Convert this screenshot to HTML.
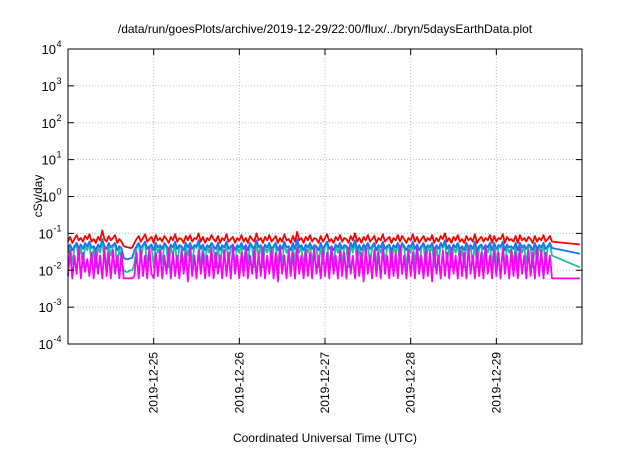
<!DOCTYPE html>
<html><head><meta charset="utf-8"><style>
body{margin:0;background:#fff;width:640px;height:448px;overflow:hidden;font-family:"Liberation Sans",sans-serif}
</style></head><body>
<svg id="c" width="640" height="448" xmlns="http://www.w3.org/2000/svg" font-family="Liberation Sans, sans-serif">
<text x="325" y="33" font-size="12" text-anchor="middle">/data/run/goesPlots/archive/2019-12-29/22:00/flux/../bryn/5daysEarthData.plot</text>
<text x="325" y="442" font-size="12" text-anchor="middle">Coordinated Universal Time (UTC)</text>
<text transform="translate(42,196) rotate(-90)" font-size="12" text-anchor="middle">cSv/day</text>
<g id="grid"></g><g id="series"></g><g id="axes"></g>
</svg>
<script>
const xTickLabels=["2019-12-25","2019-12-26","2019-12-27","2019-12-28","2019-12-29"];
const xTickDays=[1,2,3,4,5];
const yTickExps=[-4,-3,-2,-1,0,1,2,3,4];
// values in units of 1e-3 cSv/day, one sample every 0.025 day from 2019-12-24 00:00
const redVals=[60,80,55,70,90,65,75,60,85,70, 95,60,70,55,80,65,120,70,60,85, 65,75,90,55,70,60,45,43,42,40,
41,55,70,85,60,75,95,60,70,80, 55,90,65,75,60,85,70,55,80,65, 95,60,75,70,55,85,65,90,60,75,
70,100,60,80,55,75,65,90,70,60, 85,55,75,65,95,60,70,80,55,75, 65,90,60,75,55,85,70,60,100,65,
75,55,80,65,90,60,70,85,55,75, 60,95,65,70,55,85,60,110,65,75, 55,80,65,90,60,75,70,55,85,60,
75,95,60,70,55,80,65,90,60,75, 70,55,85,65,100,60,75,55,80,65, 90,60,70,85,55,75,65,95,60,70,
80,55,75,65,90,60,85,70,55,75, 65,95,60,80,55,70,85,60,75,65, 90,55,75,60,85,70,100,60,75,55,
80,65,90,60,70,55,85,65,75,60, 95,55,70,80,60,75,65,90,55,85, 60,75,70,95,55,80,65,70,60,85,
55,90,65,75,60,80,70,55,85,60, 75,65,90,60,70,85,60,null,null,null, null,null,null,null,null,null,null,null,null,50];
const blueVals=[40,50,35,45,55,40,50,38,55,45, 60,40,45,35,50,42,70,45,38,55, 42,48,55,35,45,40,22,20,20,21,
22,35,45,55,40,48,60,38,45,50, 35,55,42,48,38,55,45,35,50,42, 60,38,48,45,35,55,42,55,38,48,
45,65,38,50,35,48,42,55,45,38, 55,35,48,42,60,38,45,50,35,48, 42,55,38,48,35,55,45,38,65,42,
48,35,50,42,55,38,45,55,35,48, 38,60,42,45,35,55,38,70,42,48, 35,50,42,55,38,48,45,35,55,38,
48,60,38,45,35,50,42,55,38,48, 45,35,55,42,65,38,48,35,50,42, 55,38,45,55,35,48,42,60,38,45,
50,35,48,42,55,38,55,45,35,48, 42,60,38,50,35,45,55,38,48,42, 55,35,48,38,55,45,65,38,48,35,
50,42,55,38,45,35,55,42,48,38, 60,35,45,50,38,48,42,55,35,55, 38,48,45,60,35,50,42,45,38,55,
35,55,42,48,38,50,45,35,55,38, 48,42,55,38,45,55,40,null,null,null, null,null,null,null,null,null,null,null,null,28];
const tealVals=[30,45,15,40,50,20,45,12,50,35, 55,15,40,12,45,30,60,20,12,50, 25,45,50,12,40,20,10,9,9,10,
10,15,40,50,20,45,55,12,40,45, 12,50,30,45,15,50,40,12,45,25, 55,12,45,40,12,50,25,50,15,45,
40,60,12,45,15,45,30,50,40,12, 50,12,45,25,55,15,40,45,12,45, 30,50,12,45,15,50,40,12,60,25,
45,12,45,30,50,15,40,50,12,45, 15,55,30,40,12,50,15,60,30,45, 12,45,30,50,15,45,40,12,50,15,
45,55,12,40,15,45,30,50,15,45, 40,12,50,30,60,15,45,12,45,30, 50,15,40,50,12,45,30,55,15,40,
45,12,45,30,50,15,50,40,12,45, 30,55,15,45,12,40,50,15,45,30, 50,12,45,15,50,40,60,15,45,12,
45,30,50,15,40,12,50,30,45,15, 55,12,40,45,15,45,30,50,12,50, 15,45,40,55,12,45,30,40,15,50,
12,50,30,45,15,45,40,12,50,15, 45,30,50,15,40,50,25,null,null,null, null,null,null,null,null,null,null,null,null,12];
const magentaVals=[7,35,6,25,8,40,6,30,9,20, 7,30,6,35,8,25,6,40,7,30, 6,35,8,25,6,30,6,6,6,6,
6,7,30,6,35,7,25,6,40,8, 6,30,7,35,6,25,8,40,6,30, 7,25,6,35,8,30,5,40,7,25,
6,35,8,30,6,25,7,40,6,30, 8,25,6,35,7,30,6,45,8,25, 6,30,7,40,6,25,8,35,6,30,
7,40,6,25,8,35,6,30,5,40, 8,25,6,35,7,30,6,40,8,25, 6,35,7,30,6,40,8,25,6,35,
7,30,6,45,8,25,6,35,7,30, 6,40,8,25,6,35,7,30,5,40, 8,25,6,35,7,30,6,40,8,25,
6,35,7,30,6,45,8,25,6,35, 7,30,6,40,8,25,6,35,7,30, 5,40,8,25,6,35,7,30,6,40,
8,25,6,35,7,30,6,40,8,25, 6,35,7,30,6,45,8,25,6,35, 7,30,6,40,8,25,6,35,7,30,
6,40,8,25,6,35,7,30,6,40, 7,35,6,30,8,25,6,null,null,null, null,null,null,null,null,null,null,null,null,6];
const STEP=0.025;
const x0=68,x1=582,y0=49,y1=344,days=6;
const X=d=>x0+(x1-x0)*d/days;
const Y=v=>y1-(y1-y0)*(Math.log10(v)+4)/8;
const NS="http://www.w3.org/2000/svg";
function mk(tag,attrs,parent){const e=document.createElementNS(NS,tag);for(const k in attrs)e.setAttribute(k,attrs[k]);parent.appendChild(e);return e;}
const grid=document.getElementById('grid'),axes=document.getElementById('axes'),ser=document.getElementById('series');
yTickExps.forEach(p=>{const y=y1-(y1-y0)*(p+4)/8;
 if(p>-4&&p<4){const g=mk('line',{x1:x0,x2:x1,y1:y,y2:y,stroke:'#bbb','stroke-dasharray':'1,2','stroke-width':1},grid);
 }
 const t1=mk('line',{x1:x0,x2:x0+6,y1:y,y2:y,stroke:'#000'},axes);
 const t2=mk('line',{x1:x1-6,x2:x1,y1:y,y2:y,stroke:'#000'},axes);
 const base=p<0?53:56;
 const t=mk('text',{x:base,y:y+5,'font-size':13,'text-anchor':'end'},axes);
 
 t.textContent='10';
 const s=mk('text',{x:base+0.5,y:y-2,'font-size':9,'text-anchor':'start'},axes);
 
 s.textContent=String(p);
});
xTickDays.forEach((d,i)=>{const x=X(d);
 const g=mk('line',{x1:x,x2:x,y1:y0,y2:y1,stroke:'#bbb','stroke-dasharray':'1,2'},grid);
 const t1=mk('line',{x1:x,x2:x,y1:y1,y2:y1-6,stroke:'#000'},axes);
 const t2=mk('line',{x1:x,x2:x,y1:y0,y2:y0+6,stroke:'#000'},axes);
 const t=mk('text',{transform:`translate(${x+4},352) rotate(-90)`,'font-size':12,'text-anchor':'end'},axes);
 t.textContent=xTickLabels[i];
});
const fr=mk('rect',{x:x0,y:y0,width:x1-x0,height:y1-y0,fill:'none',stroke:'#000','stroke-width':1},axes);

function line(vals,color,name){let d='';vals.forEach((v,i)=>{if(v==null)return;const px=X(i*STEP),py=Y(v/1000);d+=(d?'L':'M')+px.toFixed(1)+','+py.toFixed(1);});
 const p=mk('path',{d:d,fill:'none',stroke:color,'stroke-width':1.8,'stroke-linejoin':'round'},ser);
 }
line(redVals,'#ff0000','series-red');
line(tealVals,'#1fbf9a','series-teal');
line(blueVals,'#1874ff','series-blue');
line(magentaVals,'#ff00ff','series-magenta');
</script>
</body></html>
